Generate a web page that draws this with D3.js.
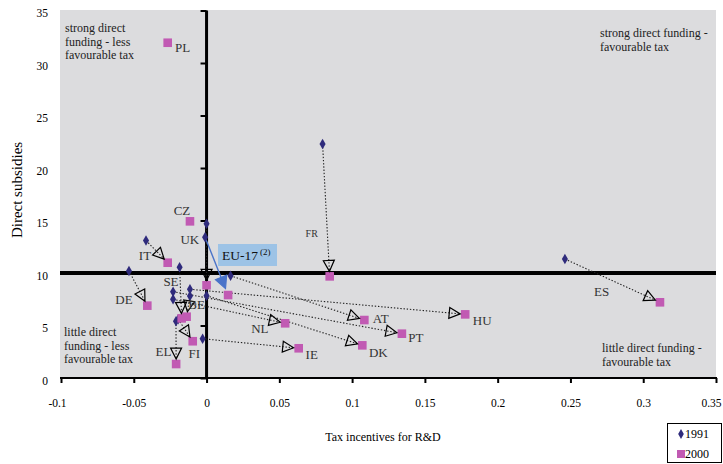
<!DOCTYPE html>
<html><head><meta charset="utf-8">
<script src="https://cdn.jsdelivr.net/npm/d3@7"></script>
<style>
html,body{margin:0;padding:0;background:#fff;}
svg text{font-family:"Liberation Serif","DejaVu Serif",serif;}
</style></head>
<body><svg id="c" width="723" height="464"></svg>
<script>
// ---- data ----
const countries = ["PL","CZ","UK","EU-17","IT","DE","SE","BE","FI","EL","IE","NL","AT","HU","PT","DK","FR","ES"];
const tax1991 = [null, null, 0.0, -0.001, -0.0416, -0.0533, -0.0185, -0.0114, -0.0195, -0.021, -0.0027, -0.023, 0.0165, -0.0114, -0.023, 0.0, 0.0797, 0.2462];
const sub1991 = [null, null, 14.7, 13.4, 13.1, 10.2, 10.54, 7.8, 5.6, 5.4, 3.74, 7.5, 9.74, 8.45, 8.22, 7.84, 22.29, 11.33];
const tax2000 = [-0.0267, -0.0114, 0.0, 0.0148, -0.0267, -0.0407, -0.0171, -0.0137, -0.0095, -0.0209, 0.0633, 0.054, 0.1084, 0.1777, 0.1342, 0.107, 0.0846, 0.3115];
const sub2000 = [31.93, 14.92, 8.83, 7.9, 10.98, 6.89, 5.68, 5.84, 3.5, 1.33, 2.83, 5.21, 5.52, 6.06, 4.22, 3.11, 9.68, 7.21];
const xTicks = [-0.1,-0.05,0,0.05,0.1,0.15,0.2,0.25,0.3,0.35];
const xTickLabels = ["-0.1","-0.05","0","0.05","0.1","0.15","0.2","0.25","0.3","0.35"];
const yTicks = [0,5,10,15,20,25,30,35];
const threshold = 10;
const seriesNames = ["1991","2000"];

// ---- layout (label offsets from 2000 point, px) ----
const labelOff = {PL:[15,5],CZ:[-8,-10.5],UK:[-16.7,-46],IT:[-22.7,-7],SE:[-10.7,-36.6],BE:[10,-12],
  DE:[-23.3,-5.7],EL:[-12.7,-12.3],FI:[1.6,12.6],NL:[-25.3,5.7],AT:[16.4,-1.7],HU:[17,5.7],PT:[14,3.6],
  IE:[13,6],DK:[16,7],FR:[-18,-43],ES:[-58.3,-10.6]};
const noArrow = new Set(["PL","CZ"]);

const svg = d3.select("#c");
const x = d3.scaleLinear().domain([-0.1,0.35]).range([61,716]);
const y = d3.scaleLinear().domain([0,35]).range([378,10.5]);

// background
svg.append("rect").attr("x",60).attr("y",10).attr("width",656).attr("height",368).attr("fill","#DCDCDE");

// threshold line
svg.append("line").attr("x1",60).attr("x2",716).attr("y1",y(threshold)).attr("y2",y(threshold))
  .attr("stroke","#000").attr("stroke-width",4);

// bottom axis
const gx = svg.append("g").attr("transform",`translate(0,${y(0)})`)
  .call(d3.axisBottom(x).tickValues(xTicks).tickSize(5).tickPadding(16).tickFormat((d,i)=>xTickLabels[i]));
gx.select(".domain").attr("stroke","#000").attr("stroke-width",2.2).attr("d","M60,0H717");
gx.selectAll(".tick line").attr("stroke","#000").attr("stroke-width",2);
gx.selectAll(".tick text").attr("font-size","11.5px").attr("fill","#000")
  .attr("dx",(d,i)=>i===0?"-4":(i===xTicks.length-1?"-5":"0"));

// y axis at x=0 (ticks) and labels on left
const gy = svg.append("g").attr("transform",`translate(${x(0)},0)`)
  .call(d3.axisLeft(y).tickValues(yTicks).tickSize(6).tickFormat(""));
gy.select(".domain").attr("stroke","#000").attr("stroke-width",3).attr("d",`M0,${y(35)}V${y(0)}`);
gy.selectAll(".tick line").attr("stroke","#000").attr("stroke-width",2);
const gyl = svg.append("g").attr("transform","translate(60,0)")
  .call(d3.axisLeft(y).tickValues(yTicks).tickSize(0).tickPadding(12));
gyl.select(".domain").remove();
gyl.selectAll(".tick text").attr("font-size","11.5px").attr("fill","#000").attr("dy","0.55em");

// axis titles
svg.append("text").attr("x",383).attr("y",441).attr("text-anchor","middle").attr("font-size","12px").text("Tax incentives for R&D");
svg.append("text").attr("transform","translate(22,190) rotate(-90)").attr("text-anchor","middle").attr("font-size","15px").text("Direct subsidies");

// quadrant texts
function multi(xp, yp, lines){
  const t = svg.append("text").attr("font-size","12px").attr("fill","#222");
  lines.forEach((l,i)=>t.append("tspan").attr("x",xp).attr("y",yp+i*13.5).text(l));
}
multi(65,32,["strong direct","funding - less","favourable tax"]);
multi(600,37,["strong direct funding -","favourable tax"]);
multi(64,336,["little direct","funding - less","favourable tax"]);
multi(602,352,["little direct funding -","favourable tax"]);

// records
const recs = countries.map((c,i)=>({c, x1:tax1991[i], y1:sub1991[i], x2:tax2000[i], y2:sub2000[i]}));

// connectors
const gl = svg.append("g");
const heads = [];
recs.forEach(r=>{
  if(r.x1===null || noArrow.has(r.c)) return;
  const p1=[x(r.x1),y(r.y1)], p2=[x(r.x2),y(r.y2)];
  const dx=p2[0]-p1[0], dy=p2[1]-p1[1], L=Math.hypot(dx,dy), u=[dx/L,dy/L];
  const blue = r.c==="EU-17";
  const gap = blue?7:5;
  const a=[p2[0]-u[0]*gap,p2[1]-u[1]*gap];
  const hl = blue?12:11, hw = blue?6:5.5;
  const b=[a[0]-u[0]*hl,a[1]-u[1]*hl];
  const n=[-u[1],u[0]];
  gl.append("line").attr("x1",p1[0]).attr("y1",p1[1]).attr("x2",blue?b[0]:a[0]).attr("y2",blue?b[1]:a[1])
    .attr("stroke",blue?"#4A74C9":"#222").attr("stroke-width",blue?1.4:1.1)
    .attr("stroke-dasharray",blue?null:"1.4,1.8");
  heads.push({blue, pts:[a,[b[0]+n[0]*hw,b[1]+n[1]*hw],[b[0]-n[0]*hw,b[1]-n[1]*hw]]});
});

// markers
const sym1991 = d3.symbol().type(d3.symbolDiamond).size(32);
svg.append("g").selectAll("path").data(recs.filter(r=>r.x1!==null)).join("path")
  .attr("d",sym1991).attr("transform",r=>`translate(${x(r.x1)},${y(r.y1)})`).attr("fill","#2F2B7C");
svg.append("g").selectAll("rect").data(recs).join("rect")
  .attr("x",r=>x(r.x2)-4.3).attr("y",r=>y(r.y2)-4.3).attr("width",8.6).attr("height",8.6).attr("fill","#C15AB3");

// arrowheads
svg.append("g").selectAll("path").data(heads).join("path")
  .attr("d",h=>"M"+h.pts.map(p=>p.join(",")).join("L")+"Z")
  .attr("fill",h=>h.blue?"#4A74C9":"none").attr("stroke",h=>h.blue?"#4A74C9":"#000").attr("stroke-width",1.2);

// country labels
recs.forEach(r=>{
  if(r.c==="EU-17") return;
  const o=labelOff[r.c];
  svg.append("text").attr("x",x(r.x2)+o[0]).attr("y",y(r.y2)+o[1]).attr("text-anchor","middle")
    .attr("dominant-baseline","central").attr("font-size",r.c==="FR"?"10px":"13px").attr("fill","#333").text(r.c);
});

// EU-17 label box
svg.append("rect").attr("x",218).attr("y",244).attr("width",59).attr("height",22).attr("fill","#9DC3E6");
const eu = svg.append("text").attr("x",222).attr("y",260).attr("font-size","13.5px").attr("fill","#111");
eu.append("tspan").text("EU-17");
eu.append("tspan").attr("dy","-5").attr("dx","2").attr("font-size","9px").text("(2)");

// legend
const lg = svg.append("g");
lg.append("rect").attr("x",667.5).attr("y",423.5).attr("width",54).attr("height",39).attr("fill","#fff").attr("stroke","#000");
lg.append("path").attr("d",d3.symbol().type(d3.symbolDiamond).size(28)).attr("transform","translate(681,434)").attr("fill","#2F2B7C");
lg.append("rect").attr("x",677).attr("y",450).attr("width",8).attr("height",8).attr("fill","#C15AB3");
lg.append("text").attr("x",685).attr("y",438).attr("font-size","12px").text(seriesNames[0]);
lg.append("text").attr("x",685).attr("y",458).attr("font-size","12px").text(seriesNames[1]);
</script></body></html>
